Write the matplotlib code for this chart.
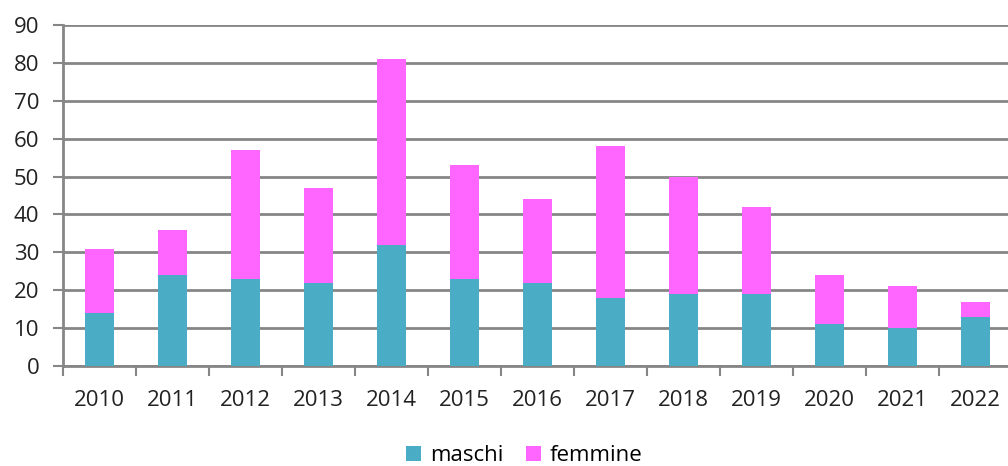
import numpy as np
import matplotlib.pyplot as plt

anni = ['2010', '2011', '2012', '2013', '2014', '2015', '2016',
        '2017', '2018', '2019', '2020', '2021', '2022']
maschi = [14, 24, 23, 22, 32, 23, 22, 18, 19, 19, 11, 10, 13]
femmine = [17, 12, 34, 25, 49, 30, 22, 40, 31, 23, 13, 11, 4]
yticks = [0, 10, 20, 30, 40, 50, 60, 70, 80, 90]

plt.rcParams['font.family'] = ['Open Sans', 'DejaVu Sans']

fig = plt.figure(figsize=(10.08, 4.66), dpi=100)
ax = fig.add_axes([63 / 1008, 1 - 366 / 466, 949 / 1008, 341 / 466])

x = np.arange(len(anni))
col_m = '#4BACC6'
col_f = '#FF66FF'
ax.bar(x, maschi, width=0.4, color=col_m, label='maschi', zorder=3)
ax.bar(x, femmine, width=0.4, bottom=maschi, color=col_f, label='femmine', zorder=3)

ax.set_xlim(-0.5, len(anni) - 0.5)
ax.set_ylim(0, 90)
ax.set_yticks(yticks)
ax.set_xticks(x)
ax.set_xticklabels(anni)
ax.set_xticks(np.arange(-0.5, len(anni), 1), minor=True)
ax.tick_params(axis='x', which='major', length=0, labelsize=16, pad=17, colors='#222222')
ax.tick_params(axis='x', which='minor', length=7, width=1.5, color='#868686')
ax.tick_params(axis='y', length=7, width=1.5, color='#868686', labelsize=16,
               labelcolor='#222222', pad=10)

ax.yaxis.grid(True, color='#868686', linewidth=2, zorder=0)
for s in ['top', 'right']:
    ax.spines[s].set_visible(False)
for s in ['left', 'bottom']:
    ax.spines[s].set_color('#868686')
    ax.spines[s].set_linewidth(2)

fig.legend(loc='center', bbox_to_anchor=(0.52, 0.022), ncol=2, frameon=False,
           fontsize=16, handlelength=0.7, handleheight=0.7, handletextpad=0.4,
           columnspacing=1.0)

fig.savefig('out.png', dpi=100)
